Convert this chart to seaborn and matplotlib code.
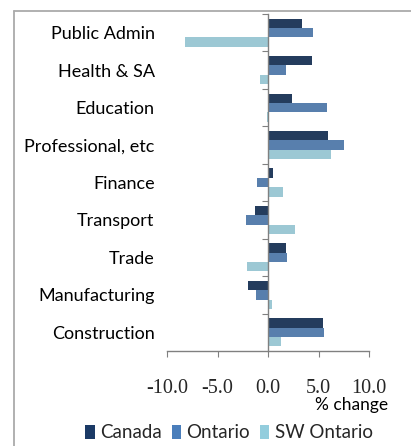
import matplotlib
matplotlib.use("Agg")
import matplotlib.pyplot as plt
from matplotlib.lines import Line2D
from matplotlib.patches import Patch
import seaborn as sns
import pandas as pd
import numpy as np

sns.set_style("white")
plt.rcParams['font.family'] = ['Lato', 'DejaVu Sans']

categories = ["Public Admin", "Health & SA", "Education", "Professional, etc",
              "Finance", "Transport", "Trade", "Manufacturing", "Construction"]
series = ["Canada", "Ontario", "SW Ontario"]
canada = [3.4, 4.4, 2.4, 5.9, 0.45, -1.25, 1.75, -1.95, 5.45]
ontario = [4.5, 1.75, 5.8, 7.55, -1.05, -2.2, 1.85, -1.15, 5.55]
sw_ontario = [-8.2, -0.8, -0.1, 6.2, 1.5, 2.65, -2.1, 0.35, 1.3]
xticks = [-10, -5, 0, 5, 10]
xtick_labels = ["-10.0", "-5.0", "0.0", "5.0", "10.0"]
colors = ["#1B3A66", "#4A7EBB", "#93CDDD"]

rows = []
for name, vals in zip(series, [canada, ontario, sw_ontario]):
    for c, v in zip(categories, vals):
        rows.append({"Sector": c, "Series": name, "Change": v})
df = pd.DataFrame(rows)

fig = plt.figure(figsize=(4.11, 4.46), dpi=100)
ax = fig.add_axes([167/411, (446-351)/446, (369-167)/411, (351-14)/446])

sns.barplot(data=df, y="Sector", x="Change", hue="Series", order=categories,
            hue_order=series, palette=colors, orient="h", width=0.75,
            linewidth=0, ax=ax, legend=False)

ax.set_xlim(-10, 10)
ax.set_xlabel("")
ax.set_ylabel("")

for s in ["top", "left"]:
    ax.spines[s].set_visible(False)
ax.spines["right"].set_position(("data", 0))
ax.spines["right"].set_color("#808080")
ax.spines["bottom"].set_color("#808080")
ax.spines["right"].set_linewidth(1.0)
ax.spines["bottom"].set_linewidth(1.0)

ax.set_xticks(xticks)
ax.set_xticklabels(xtick_labels, family=["Liberation Serif"], fontsize=14.5)
ax.tick_params(axis="x", which="major", bottom=True, direction="out",
               length=4.5, width=0.8, color="#808080", pad=16)

ax.set_yticks(range(len(categories)))
ax.set_yticklabels(categories, fontsize=13, color="#000000")
ax.tick_params(axis="y", which="major", left=False, right=False,
               labelleft=True, labelright=False, length=0, pad=9)
ax.set_yticks(np.arange(-0.5, len(categories) - 1, 1.0), minor=True)
ax.tick_params(axis="y", which="minor", left=False, right=True,
               direction="in", length=4, width=0.8, color="#808080")
ax.set_ylim(len(categories) - 0.5, -0.5)

fig.text(388/411, 1 - 405/446, "% change", ha="right", va="center",
         fontsize=12.5, color="#000000")

handles = [Patch(facecolor=c, edgecolor="none", label=s) for c, s in zip(colors, series)]
fig.legend(handles=handles, loc="center", bbox_to_anchor=(229/411, 1 - 433/446),
           ncol=3, frameon=False, fontsize=13.5, handlelength=0.5,
           handleheight=0.7, handletextpad=0.3, columnspacing=0.5,
           borderpad=0, borderaxespad=0)

fig.add_artist(Line2D([13.5/411, 13.5/411], [0, 1 - 10.5/446],
                      transform=fig.transFigure, color="#AAAAAA", lw=1.3))
fig.add_artist(Line2D([13.5/411, 1], [1 - 10.5/446, 1 - 10.5/446],
                      transform=fig.transFigure, color="#AAAAAA", lw=1.3))

fig.savefig("out.png", dpi=100)
